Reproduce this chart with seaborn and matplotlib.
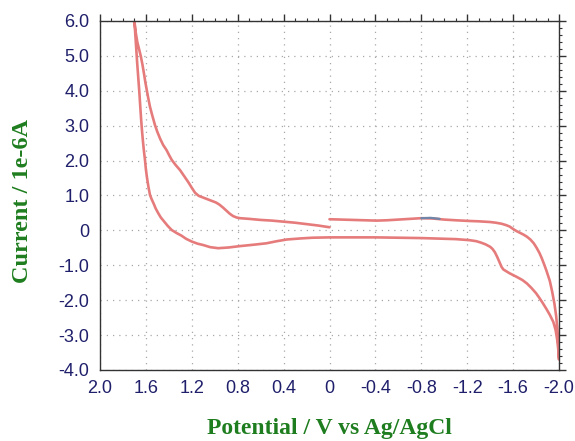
import numpy as np
import pandas as pd
import matplotlib
matplotlib.use("Agg")
import matplotlib.pyplot as plt
from matplotlib.ticker import MultipleLocator, FixedLocator, FixedFormatter
import seaborn as sns

# ---- data ----
# cathodic sweep 0 -> -2.0 V
sweep1_potential = [0.0, -0.1, -0.2, -0.3, -0.41, -0.5, -0.6, -0.7, -0.8, -0.9, -1.0, -1.1,
                    -1.22, -1.3, -1.4, -1.45, -1.50, -1.54, -1.57, -1.60, -1.63, -1.66,
                    -1.69, -1.72, -1.75, -1.78, -1.805, -1.83, -1.85, -1.87, -1.89, -1.92,
                    -1.94, -1.96, -1.975, -1.985, -1.993, -2.0]
sweep1_current = [0.32, 0.31, 0.30, 0.29, 0.28, 0.29, 0.31, 0.33, 0.35, 0.34, 0.31, 0.29,
                  0.27, 0.26, 0.24, 0.22, 0.19, 0.15, 0.11, 0.04, -0.02, -0.07,
                  -0.12, -0.18, -0.26, -0.37, -0.50, -0.65, -0.80, -0.97, -1.15, -1.45,
                  -1.75, -2.10, -2.45, -2.80, -3.20, -3.70]
# reverse sweep -2.0 -> +1.70 V
sweep2_potential = [-1.994, -1.985, -1.97, -1.95, -1.92, -1.89, -1.86, -1.83, -1.80, -1.76,
                    -1.72, -1.68, -1.63, -1.60, -1.57, -1.54, -1.515, -1.50, -1.48, -1.46,
                    -1.44, -1.42, -1.40, -1.36, -1.32, -1.28, -1.22, -1.1, -1.0, -0.8,
                    -0.6, -0.4, -0.2, 0.0, 0.15, 0.25, 0.37, 0.46, 0.55, 0.66, 0.78, 0.88,
                    0.97, 1.04, 1.10, 1.15, 1.20, 1.25, 1.29, 1.33, 1.375, 1.41, 1.44,
                    1.47, 1.492, 1.515, 1.53, 1.548, 1.564, 1.578, 1.59, 1.60, 1.608,
                    1.618, 1.627, 1.635, 1.642, 1.65, 1.658, 1.667, 1.676, 1.684, 1.692,
                    1.70]
sweep2_current = [-3.43, -3.15, -2.85, -2.62, -2.42, -2.25, -2.09, -1.94, -1.80, -1.65,
                  -1.52, -1.42, -1.33, -1.28, -1.23, -1.17, -1.12, -1.05, -0.90, -0.75,
                  -0.62, -0.53, -0.47, -0.40, -0.35, -0.31, -0.28, -0.25, -0.24, -0.22,
                  -0.21, -0.20, -0.20, -0.20, -0.21, -0.23, -0.26, -0.31, -0.37, -0.41, -0.45, -0.49,
                  -0.51, -0.48, -0.42, -0.38, -0.32, -0.24, -0.15, -0.08, 0.01, 0.13, 0.25,
                  0.37, 0.49, 0.63, 0.75, 0.88, 1.01, 1.25, 1.50, 1.75, 2.02,
                  2.30, 2.60, 2.90, 3.20, 3.60, 4.00, 4.40, 4.80, 5.20, 5.60,
                  6.00]
# return sweep +1.70 -> 0 V
sweep3_potential = [1.69, 1.675, 1.66, 1.645, 1.63, 1.617, 1.605, 1.594, 1.58, 1.565, 1.545,
                    1.521, 1.50, 1.475, 1.45, 1.42, 1.395, 1.375, 1.34, 1.303, 1.265, 1.23,
                    1.20, 1.172, 1.14, 1.10, 1.06, 1.02, 0.99, 0.96, 0.93, 0.90, 0.87,
                    0.84, 0.81, 0.78, 0.70, 0.6, 0.5, 0.4, 0.3, 0.2, 0.1, 0.0]
sweep3_current = [5.70, 5.40, 5.20, 5.00, 4.75, 4.50, 4.25, 4.05, 3.80, 3.55, 3.30,
                  3.02, 2.82, 2.62, 2.45, 2.30, 2.14, 2.02, 1.87, 1.73, 1.55, 1.38,
                  1.22, 1.08, 0.99, 0.94, 0.89, 0.84, 0.80, 0.74, 0.66, 0.57, 0.48,
                  0.41, 0.37, 0.35, 0.33, 0.30, 0.28, 0.25, 0.22, 0.18, 0.14, 0.09]
# short trace of a second (blue) curve visible near -0.85 V
trace_potential = [-0.80, -0.88, -0.96]
trace_current = [0.35, 0.36, 0.33]

x_ticks = [2.0, 1.6, 1.2, 0.8, 0.4, 0.0, -0.4, -0.8, -1.2, -1.6, -2.0]
x_tick_labels = ["2.0", "1.6", "1.2", "0.8", "0.4", "0", "-0.4", "-0.8", "-1.2", "-1.6", "-2.0"]
y_ticks = [6.0, 5.0, 4.0, 3.0, 2.0, 1.0, 0.0, -1.0, -2.0, -3.0, -4.0]
y_tick_labels = ["6.0", "5.0", "4.0", "3.0", "2.0", "1.0", "0", "-1.0", "-2.0", "-3.0", "-4.0"]

x_label = "Potential / V vs Ag/AgCl"
y_label = "Current / 1e-6A"

# ---- build table ----
potential = sweep1_potential + sweep2_potential + sweep3_potential
current = sweep1_current + sweep2_current + sweep3_current
df = pd.DataFrame({"potential": potential, "current": current})
df_trace = pd.DataFrame({"potential": trace_potential, "current": trace_current})

sns.set_style("white")
plt.rcParams["font.family"] = ["Liberation Sans", "DejaVu Sans"]

fig = plt.figure(figsize=(5.75, 4.41), dpi=100)
ax = fig.add_axes([0.1739, 0.161, 0.9722 - 0.1739, 0.9524 - 0.161])

sns.lineplot(data=df, x="potential", y="current", sort=False, estimator=None,
             color="#E67B7C", linewidth=1.9, ax=ax)
sns.lineplot(data=df_trace, x="potential", y="current", sort=False, estimator=None,
             color="#6F86A8", linewidth=1.6, ax=ax)

ax.set_xlim(2.0, -2.0)
ax.set_ylim(-4.0, 6.0)

ax.xaxis.set_major_locator(FixedLocator(x_ticks))
ax.xaxis.set_major_formatter(FixedFormatter(x_tick_labels))
ax.yaxis.set_major_locator(FixedLocator(y_ticks))
ax.yaxis.set_major_formatter(FixedFormatter(y_tick_labels))
ax.xaxis.set_minor_locator(MultipleLocator(0.1))
ax.yaxis.set_minor_locator(MultipleLocator(0.2))

ax.grid(which="major", linestyle=(0, (1, 4)), color="#a8a8a8", linewidth=0.9)

for s in ax.spines.values():
    s.set_visible(True)
    s.set_color("#333333")
    s.set_linewidth(1.0)

ax.tick_params(which="both", direction="out", top=True, right=True,
               labeltop=False, labelright=False, color="#333333")
ax.tick_params(which="major", length=5, width=1.0, labelsize=13,
               labelcolor="#1F1F6B", pad=2.5)
ax.tick_params(which="minor", length=2.5, width=0.8)

ax.set_xlabel(x_label, fontfamily="Liberation Serif", fontweight="bold",
              fontsize=17, color="#1E7D1E", va="top")
ax.set_ylabel(y_label, fontfamily="Liberation Serif", fontweight="bold",
              fontsize=17.5, color="#1E7D1E")
ax.xaxis.set_label_coords(0.5, -0.137)
ax.yaxis.set_label_coords(-0.147, 0.485)

fig.savefig("out.png", dpi=100)
